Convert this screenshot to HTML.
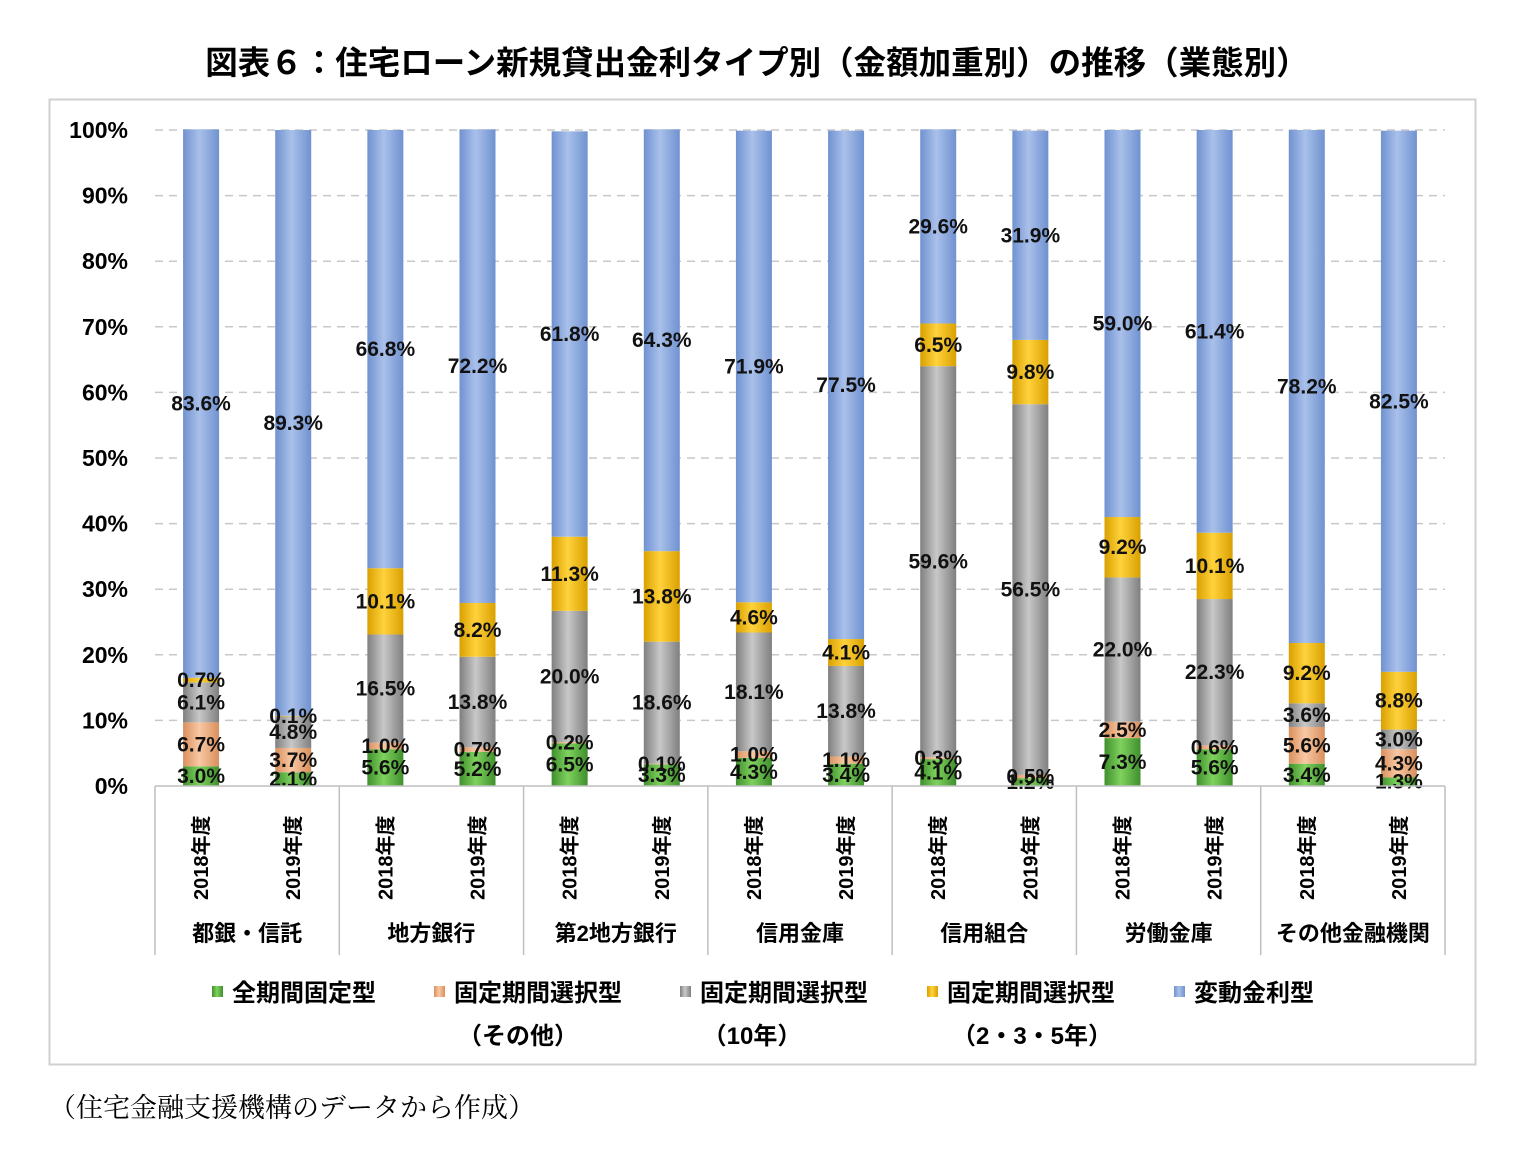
<!DOCTYPE html>
<html><head><meta charset="utf-8">
<style>
body{margin:0;background:#fff;width:1529px;height:1157px;overflow:hidden;font-family:"Liberation Sans","Noto Sans CJK JP",sans-serif;}
</style></head>
<body>
<svg id="chart" width="1529" height="1157" xmlns="http://www.w3.org/2000/svg" font-family="'Liberation Sans','Noto Sans CJK JP',sans-serif">
<defs>
<linearGradient id="g0" x1="0" x2="1"><stop offset="0" stop-color="#3f8f2c"/><stop offset="0.45" stop-color="#7fd25e"/><stop offset="1" stop-color="#3f8f2c"/></linearGradient>
<linearGradient id="g1" x1="0" x2="1"><stop offset="0" stop-color="#d98f5c"/><stop offset="0.45" stop-color="#f8c8a4"/><stop offset="1" stop-color="#d98f5c"/></linearGradient>
<linearGradient id="g2" x1="0" x2="1"><stop offset="0" stop-color="#7f7f7f"/><stop offset="0.45" stop-color="#c8c8c8"/><stop offset="1" stop-color="#7f7f7f"/></linearGradient>
<linearGradient id="g3" x1="0" x2="1"><stop offset="0" stop-color="#d9a000"/><stop offset="0.45" stop-color="#ffd23c"/><stop offset="1" stop-color="#d9a000"/></linearGradient>
<linearGradient id="g4" x1="0" x2="1"><stop offset="0" stop-color="#7092d0"/><stop offset="0.45" stop-color="#a9c0ea"/><stop offset="1" stop-color="#7092d0"/></linearGradient>
</defs>
<text x="757" y="74" text-anchor="middle" font-size="32.5" font-weight="bold">図表６：住宅ローン新規貸出金利タイプ別（金額加重別）の推移（業態別）</text>
<rect x="49.5" y="99.5" width="1426" height="965" fill="none" stroke="#d0d0d0" stroke-width="2"/>
<g id="grid"></g><g id="bars"></g><g id="labels"></g><g id="axis"></g><g id="legend"></g>
<text x="49" y="1117" font-size="27" font-family="'Liberation Serif','Noto Serif CJK SC',serif">（住宅金融支援機構のデータから作成）</text>
</svg>
<script>
const groups=["都銀・信託","地方銀行","第2地方銀行","信用金庫","信用組合","労働金庫","その他金融機関"];
const years=["2018年度","2019年度"];
const fullFixed=[3.0,2.1,5.6,5.2,6.5,3.3,4.3,3.4,4.1,1.2,7.3,5.6,3.4,1.3];
const otherFixed=[6.7,3.7,1.0,0.7,0.2,0.1,1.0,1.1,0.3,0.5,2.5,0.6,5.6,4.3];
const tenYear=[6.1,4.8,16.5,13.8,20.0,18.6,18.1,13.8,59.6,56.5,22.0,22.3,3.6,3.0];
const shortFixed=[0.7,0.1,10.1,8.2,11.3,13.8,4.6,4.1,6.5,9.8,9.2,10.1,9.2,8.8];
const variable=[83.6,89.3,66.8,72.2,61.8,64.3,71.9,77.5,29.6,31.9,59.0,61.4,78.2,82.5];
const seriesNames=["全期間固定型","固定期間選択型","固定期間選択型","固定期間選択型","変動金利型"];
const seriesSub=["","（その他）","（10年）","（2・3・5年）",""];
const yTicks=[0,10,20,30,40,50,60,70,80,90,100];
const series=[fullFixed,otherFixed,tenYear,shortFixed,variable];
const NS="http://www.w3.org/2000/svg";
const x0=155,x1=1445,yTop=130,yBot=786,n=14,band=(x1-x0)/n,bw=36;
const y=v=>yBot-(v/100)*(yBot-yTop);
const xc=i=>x0+band*(i+0.5);
function mk(tag,attrs,parent,text){const e=document.createElementNS(NS,tag);for(const k in attrs)e.setAttribute(k,attrs[k]);if(text!==undefined)e.textContent=text;document.getElementById(parent).appendChild(e);return e;}
yTicks.forEach(t=>{
  if(t>0){const l=mk('line',{x1:x0,x2:x1,y1:y(t),y2:y(t),stroke:'#c8c8c8','stroke-dasharray':'8,6','stroke-width':1.5},'grid');
  
  }
  const tx=mk('text',{x:128,y:y(t)+8,'text-anchor':'end','font-size':23,'font-weight':'bold'},'axis',t+'%');
  
  
});
const ax=mk('line',{x1:x0,x2:x1,y1:yBot,y2:yBot,stroke:'#bfbfbf','stroke-width':1.5},'axis');


for(let g=0;g<=groups.length;g++){
  const xx=x0+band*2*g;
  const l=mk('line',{x1:xx,x2:xx,y1:yBot,y2:955,stroke:'#bfbfbf','stroke-width':1.5},'axis');
  
  
}
groups.forEach((gname,g)=>{
  const t=mk('text',{x:x0+band*(2*g+1),y:941,'text-anchor':'middle','font-size':22,'font-weight':'bold'},'axis',gname);
  
  
});
for(let i=0;i<n;i++){
  const t=mk('text',{transform:`translate(${xc(i)+7},${900}) rotate(-90)`,'font-size':20,'font-weight':'bold'},'axis',years[i%2]);
  
  
  let cum=0;
  series.forEach((s,k)=>{
    const v=s[i];
    const r=mk('rect',{x:xc(i)-bw/2,y:y(cum+v),width:bw,height:y(cum)-y(cum+v),fill:`url(#g${k})`},'bars');
    
    
    const lt=mk('text',{x:xc(i),y:y(cum+v/2)+7,'text-anchor':'middle','font-size':21,'font-weight':'bold',fill:'#111'},'labels',v.toFixed(1)+'%');
    
    
    cum+=v;
  });
}
const lx=[212,434,680,927,1174];
const subX=[0,518,752,1032,0];
seriesNames.forEach((nm,k)=>{
  const m=mk('rect',{x:lx[k],y:986,width:11,height:11,fill:`url(#g${k})`},'legend');
  
  
  const t=mk('text',{x:lx[k]+20,y:1001,'font-size':24,'font-weight':'bold'},'legend',nm);
  
  
  if(seriesSub[k]){
    const s=mk('text',{x:subX[k],y:1044,'text-anchor':'middle','font-size':24,'font-weight':'bold'},'legend',seriesSub[k]);
    
    
  }
});
</script>
</body></html>
